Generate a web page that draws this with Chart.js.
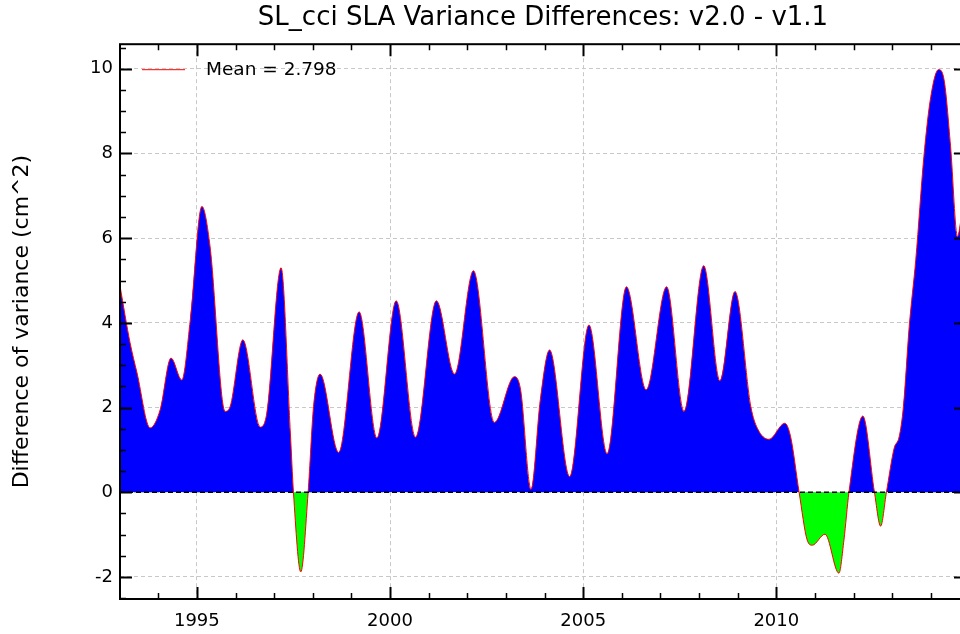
<!DOCTYPE html>
<html>
<head>
<meta charset="utf-8">
<script src="https://cdn.jsdelivr.net/npm/chart.js@4.4.0/dist/chart.umd.min.js"></script>
<style>
  html, body { margin: 0; padding: 0; background: #fff; overflow: hidden; }
  #wrap { width: 960px; height: 634px; overflow: hidden; }
</style>
</head>
<body>
<div id="wrap"><canvas id="varChart" width="966" height="634"></canvas></div>
<script>
// SLA variance difference, v2.0 - v1.1
const years = [
  1993.01, 1993.27, 1993.45, 1993.79, 1994.05, 1994.33, 1994.61, 1994.83,
  1995.13, 1995.34, 1995.73, 1995.86, 1996.19, 1996.64, 1996.81, 1997.18,
  1997.42, 1997.50, 1997.69, 1997.88, 1998.02, 1998.19, 1998.67, 1999.20,
  1999.66, 2000.16, 2000.66, 2001.20, 2001.67, 2002.16, 2002.70, 2003.22,
  2003.38, 2003.65, 2003.89, 2004.13, 2004.65, 2005.15, 2005.62, 2006.12,
  2006.63, 2007.16, 2007.61, 2008.12, 2008.54, 2008.93, 2009.34, 2009.51,
  2009.81, 2010.22, 2010.37, 2010.59, 2010.80, 2010.93, 2011.26, 2011.62,
  2011.75, 2011.88, 2012.24, 2012.54, 2012.70, 2012.85, 2013.05, 2013.18,
  2013.29, 2013.44, 2013.61, 2013.82, 2014.00, 2014.20, 2014.34, 2014.51,
  2014.69, 2014.80
];
const varDiff = [
  4.87, 3.53, 2.82, 1.52, 1.95, 3.17, 2.65, 4.07,
  6.75, 5.81, 1.91, 2.02, 3.60, 1.54, 1.87, 5.30,
  1.40, 0.00, -1.88, 0.00, 2.02, 2.79, 0.94, 4.26,
  1.28, 4.52, 1.30, 4.52, 2.79, 5.23, 1.65, 2.73,
  2.42, 0.07, 2.18, 3.36, 0.37, 3.95, 0.91, 4.85,
  2.42, 4.85, 1.91, 5.35, 2.63, 4.74, 2.02, 1.51,
  1.25, 1.63, 1.31, 0.00, -1.13, -1.25, -0.99, -1.91,
  -1.13, 0.00, 1.80, 0.00, -0.80, 0.00, 1.04, 1.31,
  2.02, 3.91, 5.49, 7.93, 9.35, 9.98, 9.75, 8.17,
  6.04, 6.55
];
const meanLabel = 'Mean = 2.798';
const xTicks = [1995, 2000, 2005, 2010];
const yTicks = [-2, 0, 2, 4, 6, 8, 10];
const xRange = [1993.01, 2014.91];
const yRange = [-2.52, 10.58];

const FONT = 'DejaVu Sans';

// inward ticks on all four sides, black frame, and the legend
const framePlugin = {
  id: 'frame',
  afterDraw(chart) {
    const ctx = chart.ctx;
    const { left, right, top, bottom } = chart.chartArea;
    const sx = chart.scales.x, sy = chart.scales.y;
    ctx.save();
    ctx.strokeStyle = '#000';
    for (let v = Math.ceil(xRange[0]); v <= xRange[1]; v++) {
      const px = Math.round(sx.getPixelForValue(v)) + 0.5;
      const major = v % 5 === 0;
      const len = major ? 12 : 6;
      ctx.lineWidth = major ? 2 : 1.5;
      ctx.beginPath();
      ctx.moveTo(px, bottom); ctx.lineTo(px, bottom - len);
      ctx.moveTo(px, top); ctx.lineTo(px, top + len);
      ctx.stroke();
    }
    for (let k = Math.ceil(yRange[0] * 2); k <= yRange[1] * 2; k++) {
      const v = k / 2;
      const py = Math.round(sy.getPixelForValue(v)) + 0.5;
      const major = k % 4 === 0;
      const len = major ? 12 : 6;
      ctx.lineWidth = major ? 2 : 1.5;
      ctx.beginPath();
      ctx.moveTo(left, py); ctx.lineTo(left + len, py);
      ctx.moveTo(right, py); ctx.lineTo(right - len, py);
      ctx.stroke();
    }
    ctx.lineWidth = 2;
    ctx.strokeRect(left, top, right - left, bottom - top);

    // legend
    ctx.strokeStyle = '#ff0000';
    ctx.lineWidth = 1;
    ctx.beginPath();
    ctx.moveTo(left + 22, top + 25.5);
    ctx.lineTo(left + 65, top + 25.5);
    ctx.stroke();
    ctx.fillStyle = '#000';
    ctx.font = '18.5px "' + FONT + '"';
    ctx.textBaseline = 'middle';
    ctx.textAlign = 'left';
    ctx.fillText(meanLabel, left + 86, top + 26);
    ctx.restore();
  }
};

const ctx = document.getElementById('varChart').getContext('2d');
new Chart(ctx, {
  type: 'line',
  data: {
    datasets: [{
      label: 'zero',
      data: [{ x: xRange[0], y: 0 }, { x: xRange[1], y: 0 }],
      borderColor: '#000',
      borderWidth: 1.5,
      borderDash: [5, 3],
      pointRadius: 0,
      fill: false
    }, {
      label: meanLabel,
      data: years.map((x, i) => ({ x: x, y: varDiff[i] })),
      borderColor: '#ff0000',
      borderWidth: 1,
      pointRadius: 0,
      cubicInterpolationMode: 'monotone',
      fill: { target: { value: 0 }, above: '#0000ff', below: '#00ff00' }
    }]
  },
  options: {
    responsive: false,
    animation: false,
    devicePixelRatio: 1,
    layout: { padding: 0 },
    plugins: {
      legend: { display: false },
      tooltip: { enabled: false },
      title: {
        display: true,
        text: 'SL_cci SLA Variance Differences: v2.0 - v1.1',
        color: '#000',
        fullSize: false,
        font: { family: FONT, size: 26, weight: 'normal' },
        padding: { top: 3, bottom: 10 }
      }
    },
    scales: {
      x: {
        type: 'linear',
        min: xRange[0],
        max: xRange[1],
        afterBuildTicks: s => { s.ticks = xTicks.map(v => ({ value: v })); },
        afterFit: s => { s.height = 35; },
        ticks: {
          color: '#000',
          font: { family: FONT, size: 18 },
          padding: 12,
          maxRotation: 0,
          autoSkip: false,
          callback: v => String(v)
        },
        grid: { color: '#c8c8c8', lineWidth: 1, drawTicks: false },
        border: { display: false, dash: [4, 3] }
      },
      y: {
        min: yRange[0],
        max: yRange[1],
        afterBuildTicks: s => { s.ticks = yTicks.map(v => ({ value: v })); },
        afterFit: s => { s.width = 120; },
        ticks: {
          color: '#000',
          font: { family: FONT, size: 18 },
          padding: 7,
          callback: v => String(v)
        },
        grid: { color: '#c8c8c8', lineWidth: 1, drawTicks: false },
        border: { display: false, dash: [4, 3] },
        title: {
          display: true,
          text: 'Difference of variance (cm^2)',
          color: '#000',
          font: { family: FONT, size: 22 },
          padding: { top: 9, bottom: 0 }
        }
      }
    }
  },
  plugins: [framePlugin]
});
</script>
</body>
</html>
